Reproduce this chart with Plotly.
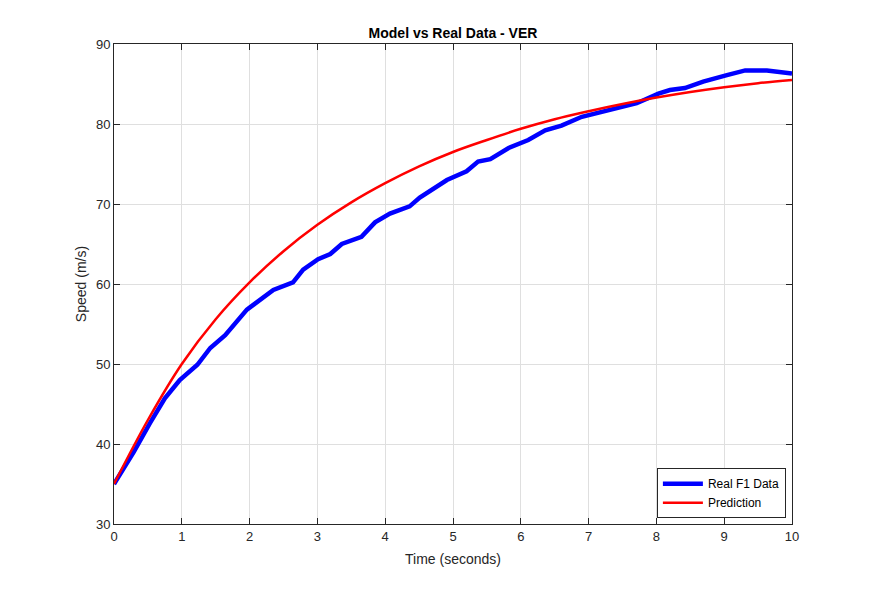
import plotly.graph_objects as go

# Real F1 data
t_real = [0, 0.29, 0.53, 0.75, 0.97, 1.23, 1.42, 1.64, 1.96, 2.35, 2.64, 2.79, 3.01,
          3.19, 3.36, 3.65, 3.85, 4.07, 4.36, 4.51, 4.91, 5.2, 5.37, 5.55, 5.82,
          6.11, 6.36, 6.6, 6.9, 7.71, 8.03, 8.2, 8.42, 8.69, 9.04, 9.31, 9.63, 10]
v_real = [35, 39.0, 42.6, 45.7, 48.0, 49.9, 52.0, 53.6, 56.8, 59.25, 60.2, 61.8, 63.1,
          63.75, 65.0, 65.9, 67.7, 68.8, 69.7, 70.8, 73.0, 74.1, 75.3, 75.6, 77.0,
          78.0, 79.2, 79.8, 80.9, 82.6, 83.8, 84.25, 84.5, 85.3, 86.1, 86.7, 86.7, 86.3]

# Model prediction
t_pred = [0, 0.5, 1, 1.5, 2, 2.5, 3, 3.5, 4, 4.5, 5, 5.5, 6, 6.5, 7, 7.5, 8, 8.5, 9, 9.5, 10]
v_pred = [35, 43.0, 50.0, 55.6, 60.2, 64.1, 67.4, 70.2, 72.6, 74.7, 76.5, 78.0, 79.4,
          80.6, 81.6, 82.5, 83.3, 84.0, 84.6, 85.1, 85.5]

font = "Liberation Sans, Arial, sans-serif"
txt = "#262626"

fig = go.Figure()
fig.add_trace(go.Scatter(x=t_real, y=v_real, mode="lines", name="Real F1 Data",
                         line=dict(color="#0000ff", width=4.5)))
fig.add_trace(go.Scatter(x=t_pred, y=v_pred, mode="lines", name="Prediction",
                         line=dict(color="#ff0000", width=2.5, shape="spline")))

axis_common = dict(showgrid=True, gridcolor="#dfdfdf", gridwidth=1,
                   showline=True, linecolor="#262626", linewidth=1, mirror="ticks",
                   ticks="inside", ticklen=6, tickcolor="#262626",
                   tickfont=dict(family=font, size=13, color=txt), zeroline=False)

fig.update_layout(
    width=876, height=590,
    margin=dict(l=106, r=92, t=36, b=74),
    paper_bgcolor="white", plot_bgcolor="white",
    title=dict(text="<b>Model vs Real Data - VER</b>", x=0.5, xref="paper",
               y=1, yref="paper", yanchor="bottom", pad=dict(b=6),
               font=dict(family=font, size=14, color="black")),
    xaxis=dict(range=[0, 10], dtick=1,
               title=dict(text="Time (seconds)", font=dict(family=font, size=14, color=txt), standoff=11),
               **axis_common),
    yaxis=dict(range=[30, 90], dtick=10,
               title=dict(text="Speed (m/s)", font=dict(family=font, size=14, color=txt), standoff=6),
               **axis_common),
    legend=dict(x=0.991, y=0.012, xanchor="right", yanchor="bottom",
                bgcolor="white", bordercolor="#262626", borderwidth=1,
                font=dict(family=font, size=12, color="black"),
                tracegroupgap=0, itemwidth=40),
    showlegend=True,
)

fig.write_html("out.html")
